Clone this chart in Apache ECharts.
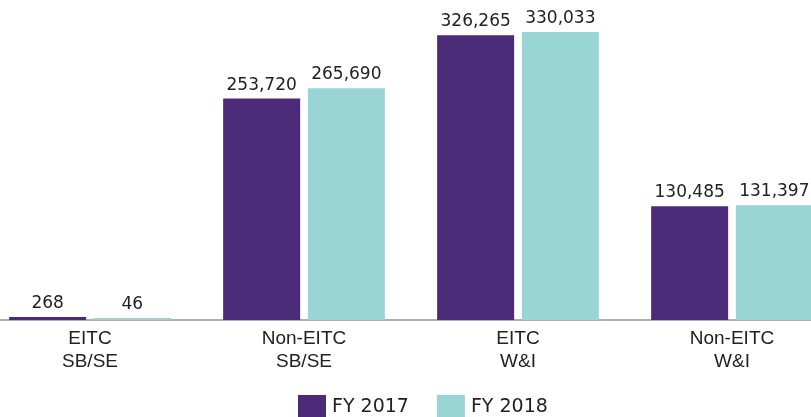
<!DOCTYPE html>
<html>
<head>
<meta charset="utf-8">
<script src="https://cdn.jsdelivr.net/npm/echarts@6/dist/echarts.min.js"></script>
<style>
	html, body { margin: 0; padding: 0; background: #fff; }
	#chart { width: 811px; height: 417px; }
</style>
</head>
<body>
<div id="chart"></div>
<script>
// 数据
const categories = ['EITC\nSB/SE', 'Non-EITC\nSB/SE', 'EITC\nW&I', 'Non-EITC\nW&I'];
const fy2017 = [268, 253720, 326265, 130485];
const fy2018 = [46, 265690, 330033, 131397];
const seriesNames = ['FY 2017', 'FY 2018'];

const colors = ['#4b2a77', '#98d5d4'];

const valueLabel = {
	show: true,
	position: 'top',
	distance: 5,
	color: '#222',
	fontFamily: 'DejaVu Sans',
	fontSize: 17,
	formatter: (p) => p.value.toLocaleString('en-US')
};

const option = {
	animation: false,
	color: colors,
	grid: {
		left: -17,
		right: -28,
		top: 32,
		bottom: 97,
		outerBoundsMode: 'none',
		containLabel: false
	},
	legend: {
		bottom: -7,
		left: 293,
		itemWidth: 28,
		itemHeight: 24,
		itemGap: 28,
		icon: 'rect',
		textStyle: {
			color: '#222',
			fontFamily: 'DejaVu Sans',
			fontSize: 19,
			padding: [0, 0, 0, 1]
		},
		data: seriesNames
	},
	xAxis: {
		type: 'category',
		data: categories,
		axisLine: {
			show: true,
			lineStyle: { color: '#b0b0b0', width: 2 }
		},
		axisTick: { show: false },
		axisLabel: {
			color: '#222',
			fontFamily: 'Liberation Sans Narrow, Liberation Sans',
			fontSize: 19,
			lineHeight: 23,
			margin: 7,
			interval: 0
		}
	},
	yAxis: {
		type: 'value',
		min: 0,
		max: 'dataMax',
		show: false,
		splitLine: { show: false }
	},
	series: [
		{
			name: seriesNames[0],
			type: 'bar',
			data: fy2017,
			barWidth: 77,
			barGap: '10%',
			barMinHeight: 3,
			itemStyle: { color: colors[0] },
			label: valueLabel
		},
		{
			name: seriesNames[1],
			type: 'bar',
			data: fy2018,
			barWidth: 77,
			barGap: '10%',
			barMinHeight: 2,
			itemStyle: { color: colors[1] },
			label: valueLabel
		}
	]
};

const chart = echarts.init(document.getElementById('chart'));
chart.setOption(option);
</script>
</body>
</html>
